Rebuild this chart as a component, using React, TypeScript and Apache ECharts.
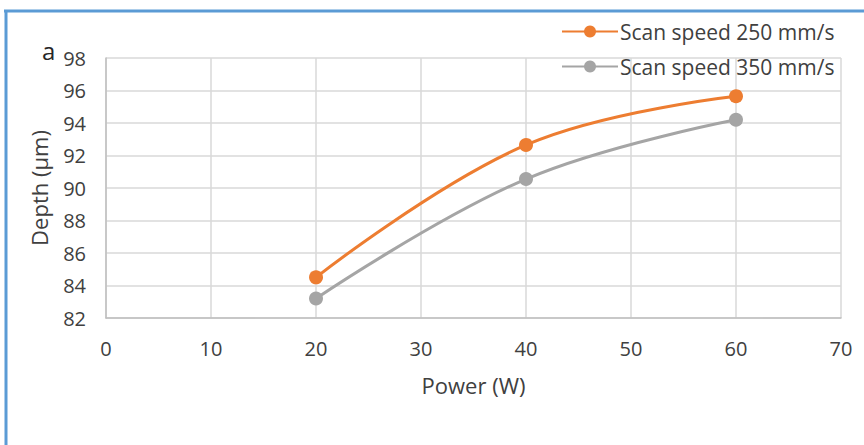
import React, { useEffect, useRef } from "react";
import * as echarts from "echarts";

const powers = [20, 40, 60];
const speed250 = [84.5, 92.65, 95.65];
const speed350 = [83.2, 90.55, 94.2];
const seriesNames = ["Scan speed 250 mm/s", "Scan speed 350 mm/s"];
const xTicks = { min: 0, max: 70, interval: 10 };
const yTicks = { min: 82, max: 98, interval: 2 };

const FONT = "Open Sans";

export default function App() {
  const ref = useRef<HTMLDivElement>(null);
  useEffect(() => {
    document.body.style.margin = "0";
    const chart = echarts.init(ref.current!, null, { renderer: "svg" });
    chart.setOption({
      animation: false,
      backgroundColor: "#ffffff",
      textStyle: { fontFamily: FONT },
      grid: { left: 106, top: 58, right: 23, bottom: 127, containLabel: false },
      legend: {
        orient: "vertical",
        left: 556,
        top: 16,
        itemWidth: 56,
        itemHeight: 15,
        itemGap: 14,
        textStyle: { fontSize: 21, color: "#404040", fontFamily: FONT, padding: [0, 0, 0, -3] },
        data: seriesNames,
      },
      xAxis: {
        type: "value",
        min: xTicks.min,
        max: xTicks.max,
        interval: xTicks.interval,
        name: "Power (W)",
        nameLocation: "middle",
        nameGap: 56,
        nameTextStyle: { fontSize: 22, color: "#404040", fontFamily: FONT },
        axisLine: { show: true, lineStyle: { color: "#BFBFBF", width: 1.5 } },
        axisTick: { show: false },
        axisLabel: { fontSize: 20, color: "#404040", margin: 20, fontFamily: FONT },
        splitLine: { show: true, lineStyle: { color: "#D9D9D9", width: 1.5 } },
      },
      yAxis: {
        type: "value",
        min: yTicks.min,
        max: yTicks.max,
        interval: yTicks.interval,
        name: "Depth (μm)",
        nameLocation: "middle",
        nameGap: 56,
        nameRotate: 90,
        nameTextStyle: { fontSize: 22, color: "#404040", fontFamily: FONT },
        axisLine: { show: true, lineStyle: { color: "#BFBFBF", width: 1.5 } },
        axisTick: { show: false },
        axisLabel: { fontSize: 20, color: "#404040", margin: 20, fontFamily: FONT },
        splitLine: { show: true, lineStyle: { color: "#D9D9D9", width: 1.5 } },
      },
      graphic: [
        { type: "line", shape: { x1: 4, y1: 11, x2: 864, y2: 11 }, style: { stroke: "#5B9BD5", lineWidth: 3 } },
        { type: "line", shape: { x1: 6, y1: 11, x2: 6, y2: 445 }, style: { stroke: "#5B9BD5", lineWidth: 3 } },
        {
          type: "text",
          left: 42,
          top: 38,
          style: { text: "a", fontSize: 24, fill: "#262626", fontFamily: FONT },
        },
      ],
      series: [
        {
          name: seriesNames[0],
          type: "line",
          smooth: 0.4,
          data: powers.map((p, i) => [p, speed250[i]]),
          symbol: "circle",
          symbolSize: 14,
          lineStyle: { color: "#ED7D31", width: 3 },
          itemStyle: { color: "#ED7D31" },
        },
        {
          name: seriesNames[1],
          type: "line",
          smooth: 0.4,
          data: powers.map((p, i) => [p, speed350[i]]),
          symbol: "circle",
          symbolSize: 14,
          lineStyle: { color: "#A5A5A5", width: 3 },
          itemStyle: { color: "#A5A5A5" },
        },
      ],
    });
    return () => chart.dispose();
  }, []);
  return <div ref={ref} style={{ width: 864, height: 445 }} />;
}
